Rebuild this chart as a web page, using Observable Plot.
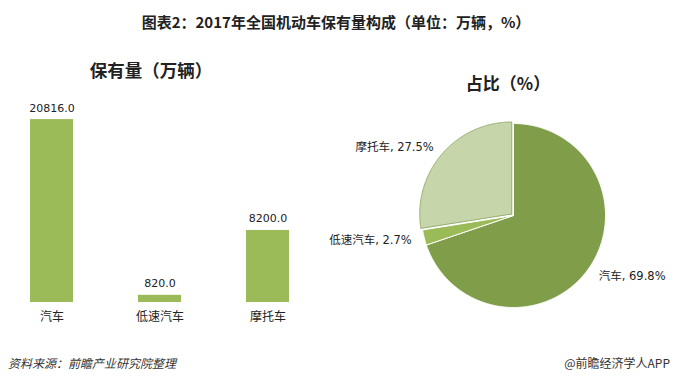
<!DOCTYPE html>
<html>
<head>
<meta charset="utf-8">
<script src="https://cdn.jsdelivr.net/npm/d3@7"></script>
<script src="https://cdn.jsdelivr.net/npm/@observablehq/plot@0.6"></script>
<style>
  html, body { margin: 0; padding: 0; background: #fff; }
  #wrap { position: relative; width: 680px; height: 382px; overflow: hidden; background: #fff; font-family: "Noto Sans CJK SC", "Noto Sans", sans-serif; color: #222; }
  .t { position: absolute; white-space: nowrap; }
  #title { left: 336px; top: 12px; transform: translateX(-50%); font-size: 15px; font-weight: bold; line-height: 20px; color: #222; }
  #sub1 { left: 151px; top: 58px; transform: translateX(-50%); font-size: 17.5px; font-weight: bold; line-height: 24px; color: #222; }
  #sub2 { left: 508px; top: 71px; transform: translateX(-50%); font-size: 17px; font-weight: bold; line-height: 24px; color: #222; }
  #src { left: 8px; top: 355px; font-size: 12px; font-style: italic; line-height: 16px; color: #333; }
  #brand { right: 10px; top: 355px; font-size: 12px; line-height: 16px; color: #333; }
  #bars { position: absolute; left: 0; top: 50px; }
  #pie { position: absolute; left: 320px; top: 50px; }
</style>
</head>
<body>
<div id="wrap">
  <div class="t" id="title">图表2：2017年全国机动车保有量构成（单位：万辆，%）</div>
  <div class="t" id="sub1">保有量（万辆）</div>
  <div class="t" id="sub2">占比（%）</div>
  <div id="bars"></div>
  <div id="pie"></div>
  <div class="t" id="src">资料来源：前瞻产业研究院整理</div>
  <div class="t" id="brand">@前瞻经济学人APP</div>
</div>
<script>
const categories = ["汽车", "低速汽车", "摩托车"];
const holdings = [20816.0, 820.0, 8200.0];
const shares = [69.8, 2.7, 27.5];
const sliceColors = ["#809e4a", "#9bbb59", "#c6d6aa"];
const exploded = ["摩托车"];

const barRows = categories.map((c, i) => ({category: c, value: holdings[i]}));

const bars = Plot.plot({
  width: 320,
  height: 285,
  marginTop: 20,
  marginBottom: 33,
  marginLeft: 0,
  marginRight: 0,
  x: {domain: categories, range: [30, 289.6], paddingInner: 0.603, paddingOuter: 0},
  y: {domain: [0, 26400], axis: null},
  style: {fontFamily: "'Noto Sans CJK SC', sans-serif", color: "#222", background: "transparent"},
  marks: [
    Plot.barY(barRows, {x: "category", y: "value", fill: "#9bbb59"}),
    Plot.text(barRows, {x: "category", y: "value", text: d => d3.format(".1f")(d.value), dy: -11.5, lineAnchor: "middle", fontSize: 11, fontFamily: "DejaVu Sans", fill: "#222"}),
    Plot.axisX({tickSize: 0, tickPadding: 10, fontSize: 12, label: null, fill: "#222"})
  ]
});
document.getElementById("bars").appendChild(bars);

// Pie geometry from data
const pieRows = categories.map((c, i) => ({name: c, share: shares[i]}));
const arcs = d3.pie().sort(null).value(d => d.share)(pieRows);
const polyPoints = [];
const labelRows = [];
arcs.forEach(a => {
  const mid = (a.startAngle + a.endAngle) / 2;
  const off = exploded.includes(a.data.name) ? 0.025 : 0;
  const ox = off * Math.sin(mid), oy = off * Math.cos(mid);
  polyPoints.push({name: a.data.name, x: ox, y: oy});
  const n = Math.max(2, Math.ceil((a.endAngle - a.startAngle) / 0.01));
  for (let k = 0; k <= n; k++) {
    const t = a.startAngle + (a.endAngle - a.startAngle) * k / n;
    polyPoints.push({name: a.data.name, x: ox + Math.sin(t), y: oy + Math.cos(t)});
  }
  polyPoints.push({name: a.data.name, x: ox, y: oy});
  const r = 1.14;
  labelRows.push({name: a.data.name, label: `${a.data.name}, ${a.data.share.toFixed(1)}%`, x: r * Math.sin(mid), y: r * Math.cos(mid)});
});

const cx = 193, cy = 165, R = 92;
const pie = Plot.plot({
  width: 360,
  height: 285,
  margin: 0,
  x: {domain: [-1, 1], range: [cx - R, cx + R], axis: null},
  y: {domain: [-1, 1], range: [cy + R, cy - R], axis: null},
  color: {domain: categories, range: sliceColors},
  style: {fontFamily: "'DejaVu Sans', 'Noto Sans CJK SC', sans-serif", color: "#222", background: "transparent"},
  marks: [
    Plot.line(polyPoints.filter(d => !exploded.includes(d.name)), {x: "x", y: "y", z: "name", fill: "name", stroke: "#ffffff", strokeWidth: 1, curve: "linear"}),
    Plot.line(polyPoints.filter(d => exploded.includes(d.name)), {x: "x", y: "y", z: "name", fill: "name", stroke: "#97ad70", strokeWidth: 1, curve: "linear"}),
    Plot.text(labelRows.filter(d => d.x < 0), {x: "x", y: "y", text: "label", textAnchor: "end", lineAnchor: "middle", fontSize: 11.5, fill: "#222"}),
    Plot.text(labelRows.filter(d => d.x >= 0), {x: "x", y: "y", text: "label", textAnchor: "start", lineAnchor: "middle", fontSize: 11.5, fill: "#222"})
  ]
});
document.getElementById("pie").appendChild(pie);
</script>
</body>
</html>
